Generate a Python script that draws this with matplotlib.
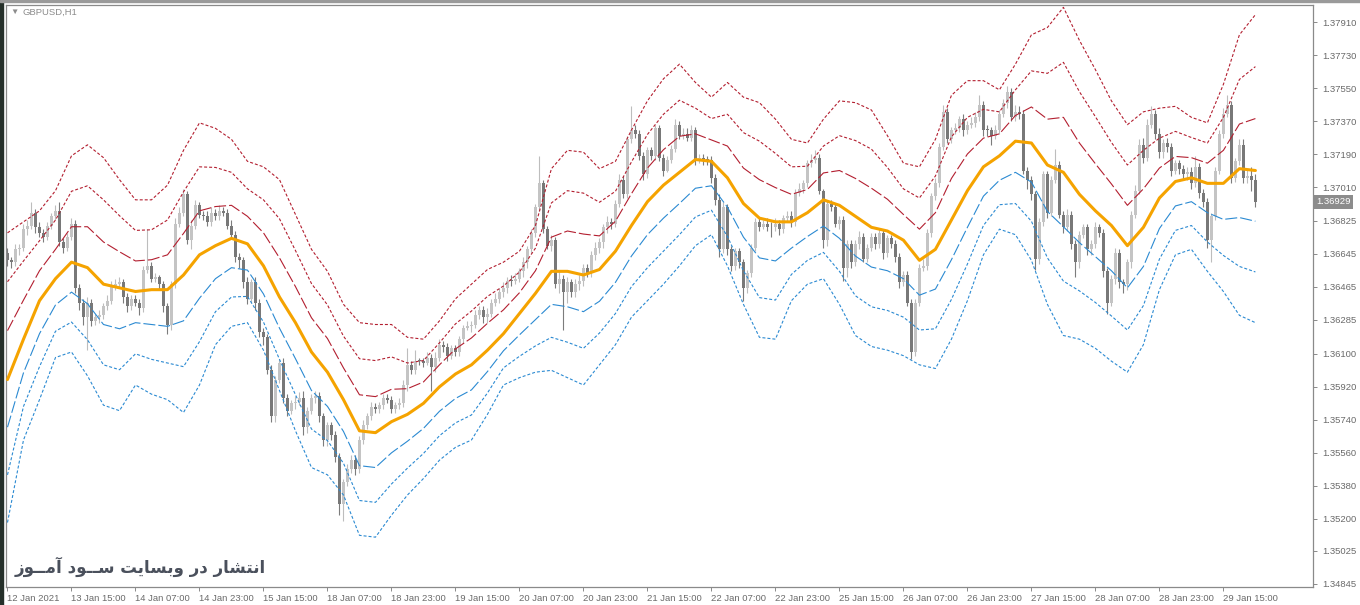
import numpy as np
import matplotlib
matplotlib.use("Agg")
import matplotlib.pyplot as plt
from matplotlib.patches import Rectangle
from matplotlib.transforms import blended_transform_factory

# GBPUSD H1, prices kept in pips above 1.3000 (693 -> 1.3693)
first_open = 665

closes = [
    661, 660, 667, 668, 678, 680, 687, 679, 676, 674,
    680, 685, 688, 671, 668, 674, 681, 646, 638, 630,
    638, 628, 630, 631, 636, 639, 647, 648, 649, 641,
    636, 640, 638, 635, 656, 658, 651, 652, 648, 636,
    626, 648, 681, 687, 697, 672, 680, 691, 686, 685,
    682, 687, 685, 688, 687, 680, 675, 663, 661, 649,
    640, 649, 638, 622, 619, 601, 576, 596, 605, 586,
    579, 583, 584, 586, 570, 579, 586, 587, 576, 563,
    571, 566, 554, 528, 540, 547, 552, 547, 563, 571,
    576, 581, 580, 582, 586, 585, 580, 582, 583, 593,
    604, 601, 606, 606, 605, 608, 603, 608, 615, 614,
    609, 613, 611, 618, 624, 625, 626, 631, 634, 630,
    632, 638, 640, 644, 646, 650, 650, 651, 655, 660,
    667, 676, 690, 703, 678, 669, 672, 648, 651, 644,
    649, 644, 648, 650, 657, 654, 664, 668, 671, 679,
    682, 681, 692, 705, 697, 727, 732, 730, 718, 708,
    721, 718, 733, 717, 710, 716, 722, 735, 729, 730,
    728, 732, 716, 717, 716, 716, 706, 694, 667, 690,
    667, 658, 666, 660, 646, 654, 668, 682, 679, 681,
    679, 679, 681, 678, 684, 685, 682, 698, 700, 703,
    714, 716, 717, 699, 672, 692, 690, 681, 683, 657,
    670, 660, 670, 674, 662, 668, 674, 670, 676, 665,
    673, 670, 663, 649, 653, 638, 611, 638, 657, 658,
    676, 696, 703, 723, 742, 727, 732, 733, 738, 732,
    735, 736, 739, 746, 732, 732, 729, 732, 741, 747,
    753, 739, 742, 741, 710, 705, 697, 662, 682, 708,
    687, 705, 713, 686, 679, 686, 670, 660, 675, 679,
    667, 670, 679, 676, 655, 638, 651, 665, 649, 648,
    660, 686, 699, 724, 717, 735, 741, 730, 720, 725,
    723, 710, 714, 711, 708, 709, 703, 712, 698, 693,
    672, 685, 710, 730, 741, 746, 706, 715, 724, 706,
    707, 705, 693,
]

highs = [
    668, 663, 670, 670, 681, 683, 693, 689, 682, 678,
    682, 687, 691, 693, 673, 676, 684, 683, 648, 640,
    641, 640, 632, 634, 638, 642, 650, 651, 652, 651,
    643, 642, 642, 640, 658, 678, 660, 654, 653, 650,
    638, 650, 684, 690, 700, 699, 683, 694, 693, 688,
    688, 690, 689, 691, 690, 689, 683, 677, 665, 663,
    652, 651, 652, 640, 624, 621, 604, 598, 607, 608,
    588, 585, 587, 589, 590, 581, 588, 590, 589, 578,
    573, 573, 568, 556, 542, 550, 555, 555, 565, 574,
    578, 584, 583, 584, 588, 588, 587, 584, 586, 596,
    613, 606, 612, 608, 608, 611, 610, 611, 618, 617,
    616, 615, 615, 620, 626, 628, 628, 634, 636, 636,
    635, 640, 643, 646, 649, 652, 653, 654, 657, 663,
    669, 678, 692, 718, 705, 680, 675, 674, 656, 653,
    652, 651, 651, 653, 659, 659, 666, 671, 673, 681,
    685, 684, 694, 708, 707, 729, 745, 735, 732, 720,
    723, 723, 735, 735, 719, 718, 724, 738, 737, 733,
    733, 735, 734, 719, 719, 718, 718, 708, 697, 693,
    692, 669, 668, 668, 662, 656, 670, 684, 684, 683,
    684, 682, 684, 683, 686, 688, 688, 700, 703, 705,
    716, 719, 721, 719, 700, 694, 694, 692, 685, 685,
    672, 672, 672, 677, 676, 670, 676, 676, 678, 678,
    675, 675, 672, 665, 655, 655, 640, 640, 659, 662,
    678, 698, 706, 725, 746, 744, 734, 736, 740, 741,
    737, 739, 742, 751, 748, 735, 734, 735, 743, 749,
    756, 755, 746, 745, 743, 712, 707, 699, 684, 710,
    710, 707, 722, 715, 688, 689, 688, 672, 677, 681,
    681, 672, 682, 681, 678, 657, 653, 668, 667, 651,
    662, 688, 702, 727, 728, 738, 745, 743, 733, 727,
    728, 725, 716, 716, 713, 712, 712, 718, 714, 700,
    695, 687, 712, 732, 744, 751, 748, 717, 727, 727,
    711, 712, 708,
]

lows = [
    658, 657, 658, 664, 666, 675, 678, 676, 674, 671,
    672, 678, 683, 669, 665, 666, 672, 643, 634, 626,
    612, 625, 626, 627, 629, 634, 637, 645, 646, 638,
    633, 634, 636, 631, 633, 654, 649, 649, 645, 633,
    621, 623, 646, 679, 685, 670, 667, 678, 684, 683,
    680, 680, 683, 683, 685, 678, 673, 660, 657, 646,
    637, 638, 634, 619, 615, 599, 573, 573, 594, 583,
    576, 577, 580, 582, 566, 567, 577, 583, 573, 560,
    560, 563, 551, 522, 519, 538, 545, 544, 545, 561,
    569, 574, 578, 578, 580, 583, 578, 578, 580, 581,
    590, 599, 599, 604, 603, 604, 590, 600, 606, 611,
    606, 607, 609, 609, 616, 623, 622, 624, 629, 627,
    627, 630, 636, 638, 641, 643, 647, 648, 649, 652,
    657, 665, 674, 688, 676, 667, 666, 646, 643, 623,
    638, 641, 641, 645, 647, 652, 652, 661, 665, 668,
    676, 678, 679, 690, 695, 695, 725, 728, 716, 705,
    706, 716, 716, 715, 707, 709, 714, 720, 727, 727,
    726, 726, 713, 714, 713, 713, 703, 691, 663, 665,
    664, 655, 656, 657, 639, 643, 652, 666, 677, 678,
    677, 674, 677, 675, 676, 682, 679, 680, 696, 698,
    701, 712, 714, 697, 668, 669, 688, 679, 678, 650,
    652, 657, 658, 667, 660, 660, 666, 667, 668, 662,
    663, 668, 660, 646, 647, 636, 607, 609, 636, 655,
    656, 674, 694, 701, 721, 725, 725, 730, 731, 729,
    730, 733, 734, 737, 729, 729, 724, 727, 730, 739,
    744, 737, 737, 738, 708, 700, 694, 656, 659, 680,
    684, 685, 703, 684, 676, 677, 667, 652, 657, 673,
    664, 664, 668, 674, 652, 632, 636, 648, 646, 643,
    645, 657, 684, 697, 714, 715, 733, 727, 717, 717,
    720, 707, 708, 708, 705, 705, 700, 701, 695, 690,
    668, 660, 683, 708, 728, 739, 703, 704, 713, 703,
    703, 699, 690,
]

# indicator, read every 4 bars: middle line and the outermost bands
center = [
    596, 618, 639, 651, 660, 657, 648, 646, 644, 645,
    645, 653, 664, 669, 673, 670, 658, 641, 627, 611,
    600, 585, 568, 567, 573, 577, 583, 592, 599, 604,
    612, 621, 632, 643, 655, 655, 653, 656, 666, 680,
    693, 702, 709, 716, 715, 706, 692, 684, 682, 682,
    687, 694, 691, 685, 679, 677, 672, 661, 667, 683,
    699, 712, 718, 726, 725, 713, 709, 697, 688, 680,
    669, 679, 695, 704, 706, 703, 703, 711, 710,
]
upper_outer = [
    676, 682, 688, 699, 718, 724, 717, 705, 694, 694,
    702, 721, 736, 733, 727, 715, 712, 705, 686, 667,
    655, 637, 627, 626, 626, 619, 618, 628, 640, 648,
    656, 660, 666, 680, 711, 721, 720, 711, 715, 732,
    748, 760, 768, 758, 750, 758, 750, 747, 738, 727,
    725, 738, 748, 747, 743, 729, 714, 712, 727, 751,
    759, 759, 754, 768, 784, 788, 799, 781, 765, 748,
    735, 742, 744, 745, 739, 736, 757, 784, 795,
]
lower_outer = [
    518, 563, 585, 608, 611, 598, 582, 579, 593, 588,
    585, 578, 593, 615, 625, 627, 612, 590, 568, 548,
    544, 533, 511, 510, 522, 533, 542, 552, 559, 563,
    577, 593, 597, 600, 601, 597, 593, 604, 615, 630,
    639, 648, 658, 669, 675, 658, 637, 619, 618, 639,
    648, 651, 637, 620, 614, 612, 609, 604, 602, 618,
    639, 664, 678, 675, 661, 637, 620, 618, 613, 606,
    600, 615, 645, 664, 667, 655, 644, 631, 627,
]

price_ticks = [1.37910, 1.37730, 1.37550, 1.37370, 1.37190, 1.37010,
               1.36825, 1.36645, 1.36465, 1.36285, 1.36100, 1.35920,
               1.35740, 1.35560, 1.35380, 1.35200, 1.35025, 1.34845]
time_labels = ["12 Jan 2021", "13 Jan 15:00", "14 Jan 07:00", "14 Jan 23:00",
               "15 Jan 15:00", "18 Jan 07:00", "18 Jan 23:00", "19 Jan 15:00",
               "20 Jan 07:00", "20 Jan 23:00", "21 Jan 15:00", "22 Jan 07:00",
               "22 Jan 23:00", "25 Jan 15:00", "26 Jan 07:00", "26 Jan 23:00",
               "27 Jan 15:00", "28 Jan 07:00", "28 Jan 23:00", "29 Jan 15:00"]
last_price = 1.36929


def px(p):
    return 1.3 + np.asarray(p, dtype=float) / 10000.0


plt.rcParams['font.family'] = ['Liberation Sans', 'DejaVu Sans']

W, H = 1360, 605
fig = plt.figure(figsize=(W / 100, H / 100), dpi=100)
fig.patch.set_facecolor('white')
ax = fig.add_axes([6 / W, 18 / H, (1313 - 6) / W, (587 - 5) / H])

c = px(closes)
h = px(highs)
l = px(lows)
o = px([first_open] + closes[:-1])   # each bar opens at the previous close
n = len(c)
idx = np.arange(n)
bull = c > o

bull_col, bear_col = '#c4c4c4', '#787878'
body_col = np.where(bull, bull_col, bear_col)
ax.vlines(idx, l, h, colors=np.where(bull, '#bdbdbd', '#7c7c7c'),
          linewidth=0.8, zorder=1)
ax.bar(idx, np.maximum(np.abs(c - o), 0.00004), bottom=np.minimum(o, c),
       width=0.72, color=body_col, linewidth=0, zorder=2)

# bands
bi = np.arange(0, n, 4)
mid = px(center)
hi3 = px(upper_outer)
lo3 = px(lower_outer)
red, blue = '#b31f30', '#2b8ad2'
for k in (1, 2, 3):
    dash = (10.8, 2.7) if k == 1 else (2.7, 1.8)
    ax.plot(bi, mid + (hi3 - mid) * k / 3, color=red, lw=0.8, dashes=dash, zorder=3)
    ax.plot(bi, mid - (mid - lo3) * k / 3, color=blue, lw=0.8, dashes=dash, zorder=3)
ax.plot(bi, mid, color='#f5a300', lw=2.2, zorder=4, solid_capstyle='round')

ax.set_xlim(-0.375, 326.4)
ax.set_ylim(px(803 - 0.54545 * 587), px(803 - 0.54545 * 5))

ax.yaxis.tick_right()
ax.set_yticks(price_ticks)
ax.set_yticklabels([f"{v:.5f}" for v in price_ticks])
ax.set_xticks(np.arange(0, 16 * len(time_labels), 16))
ax.set_xticklabels(time_labels)
for t in ax.get_xticklabels():
    t.set_horizontalalignment('left')
ax.tick_params(axis='both', direction='out', length=3, width=0.7,
               color='#8a8a8a', labelcolor='#6a6a6a', labelsize=6.8)
ax.tick_params(axis='y', pad=4)
ax.tick_params(axis='x', pad=2)
for s in ax.spines.values():
    s.set_color('#8a8a8a')
    s.set_linewidth(0.9)

# last price marker on the price scale
tr = blended_transform_factory(ax.transAxes, ax.transData)
ax.text(1.0 + 3 / 1307, last_price, f"{last_price:.5f}", transform=tr,
        ha='left', va='center', fontsize=6.8, color='white', clip_on=False,
        bbox=dict(boxstyle='square,pad=0.28', fc='#8c8c8c', ec='none'), zorder=6)

fig.text(10 / W, 1 - 12 / H, '\u25bc', fontsize=6, color='#8c8c8c', va='center')
fig.text(22 / W, 1 - 12 / H, 'GBPUSD,H1', fontsize=6.8, color='#8c8c8c', va='center')

# watermark "انتشار در وبسایت ســود آمــوز" written as shaped glyphs in display order
watermark = ("\ufeaf\ufeee\u0640\u0640\ufee3\ufe81 "
             "\ufea9\ufeee\u0640\u0640\ufeb3 "
             "\ufe96\ufef3\ufe8e\ufeb4\ufe91\ufeed "
             "\ufead\ufea9 "
             "\ufead\ufe8e\ufeb8\ufe98\ufee7\ufe8d")
fig.text(15 / W, 1 - 567 / H, watermark, family=['DejaVu Sans'], fontweight='bold',
         fontsize=12, color='#4a505c', ha='left', va='center')

# window edges
fig.add_artist(Rectangle((0, 0), 3 / W, 1, transform=fig.transFigure,
                         color='#25302a', zorder=10))
fig.add_artist(Rectangle((0, 1 - 1.5 / H), 1, 1.5 / H, transform=fig.transFigure,
                         color='#9a9a9a', zorder=10))

fig.savefig('out.png', dpi=100)
